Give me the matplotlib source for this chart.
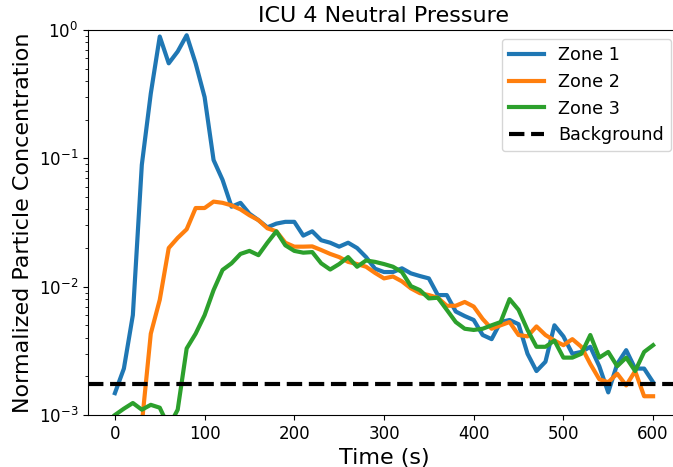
#!/usr/bin/env python3
"""ICU 4 neutral pressure: normalized particle concentration per zone."""

import matplotlib

matplotlib.use("Agg")
import matplotlib.pyplot as plt
import numpy as np

time_s = np.arange(0, 601, 10)

zone1 = [
    0.00148, 0.0023, 0.006, 0.089, 0.32, 0.89, 0.55, 0.68, 0.91, 0.55,
    0.30, 0.097, 0.068, 0.042, 0.045, 0.037, 0.033, 0.029, 0.031, 0.032,
    0.032, 0.025, 0.027, 0.023, 0.022, 0.0205, 0.022, 0.020, 0.017, 0.0138,
    0.013, 0.013, 0.0139, 0.0127, 0.0121, 0.0116, 0.0086, 0.0086, 0.0064, 0.0059,
    0.0055, 0.0042, 0.0039, 0.0053, 0.0055, 0.0051, 0.0030, 0.0022, 0.0026, 0.0050,
    0.0041, 0.0030, 0.0031, 0.0034, 0.0024, 0.0015, 0.0025, 0.0032, 0.0023, 0.0023,
    0.0018,
]
zone2 = [
    0.0004, 0.0005, 0.0006, 0.00085, 0.0043, 0.0079, 0.020, 0.024, 0.028, 0.041,
    0.041, 0.046, 0.045, 0.043, 0.040, 0.036, 0.033, 0.0285, 0.027, 0.022,
    0.0205, 0.0205, 0.0206, 0.0193, 0.018, 0.017, 0.0156, 0.015, 0.0143, 0.0128,
    0.0116, 0.012, 0.011, 0.0097, 0.0089, 0.0086, 0.0082, 0.0071, 0.0071, 0.0076,
    0.0070, 0.0056, 0.0047, 0.0050, 0.0053, 0.0042, 0.0041, 0.0049, 0.0042, 0.0038,
    0.0035, 0.0039, 0.0034, 0.0025, 0.0019, 0.0018, 0.0021, 0.0017, 0.0022, 0.0014,
    0.0014,
]
zone3 = [
    0.0010, 0.00112, 0.00124, 0.0011, 0.0012, 0.00114, 0.00081, 0.0011, 0.0033, 0.0043,
    0.006, 0.0094, 0.0135, 0.0152, 0.018, 0.019, 0.0176, 0.022, 0.027, 0.021,
    0.019, 0.0184, 0.0186, 0.0152, 0.0136, 0.015, 0.017, 0.0143, 0.016, 0.0156,
    0.0150, 0.0143, 0.013, 0.0101, 0.0094, 0.0081, 0.0082, 0.0066, 0.0053, 0.0047,
    0.0046, 0.0047, 0.0050, 0.0053, 0.0080, 0.0066, 0.0046, 0.0034, 0.0034, 0.0038,
    0.0028, 0.0028, 0.0030, 0.0042, 0.0028, 0.0031, 0.0024, 0.0028, 0.0022, 0.0031,
    0.0035,
]
background = 0.00174

fig = plt.figure(figsize=(6.73, 4.67), dpi=100)
# axes runs a little past the right edge, as in the cropped original
ax = fig.add_axes([88 / 673, 52 / 467, 592 / 673, 385 / 467])

ax.plot(time_s, zone1, lw=3, label="Zone 1")
ax.plot(time_s, zone2, lw=3, label="Zone 2")
ax.plot(time_s, zone3, lw=3, label="Zone 3")
ax.axhline(background, color="k", ls="--", lw=3, label="Background")

ax.set_yscale("log")
ax.set_ylim(1e-3, 1)
ax.set_xticks([0, 100, 200, 300, 400, 500, 600])
ax.tick_params(labelsize=12)
ax.set_xlabel("Time (s)", fontsize=16)
ax.set_ylabel("Normalized Particle Concentration", fontsize=16)
ax.set_title("ICU 4 Neutral Pressure", fontsize=16)
ax.legend(loc="upper right", fontsize=12.7)

fig.savefig("out.png", dpi=100)
plt.close(fig)
